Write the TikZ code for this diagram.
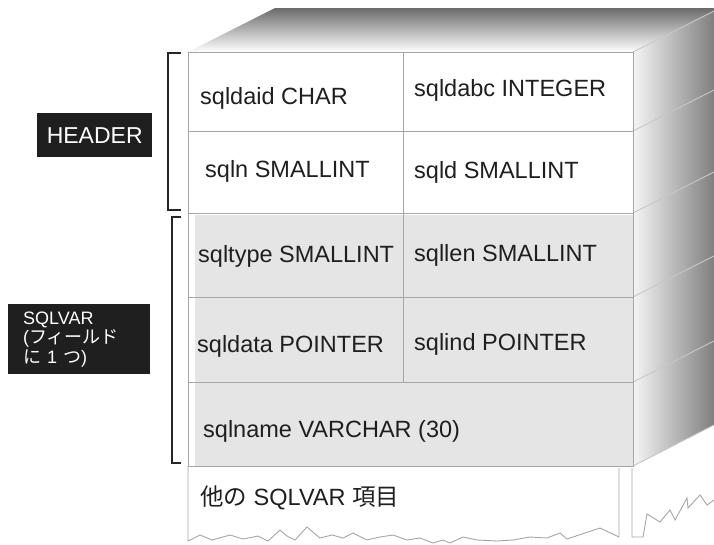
\documentclass[tikz,border=0pt]{standalone}
\usepackage{fontspec}
\setmainfont{Liberation Sans}
\newfontfamily\jp{Noto Sans CJK JP}
\begin{document}
\begin{tikzpicture}[x=1pt,y=-1pt,
  grid/.style={draw=black!35, line width=0.9pt},
  edge3d/.style={draw=black!22, line width=0.9pt},
  field/.style={anchor=west, inner sep=0pt, font=\fontsize{23.5}{27}\selectfont, text=black!88},
  brk/.style={line width=2.6pt, draw=black!85},
  tag/.style={fill=black!88, text=white, inner sep=0pt}]
\useasboundingbox (0,0) rectangle (714,544);
\fill[white] (0,0) rectangle (714,544);
% top face
\shade[top color=black!58, bottom color=white] (188,52) -- (275,8) -- (714,8) -- (714,11) -- (633,52) -- cycle;
% side face
\shade[left color=black!4, right color=black!50] (633,52) -- (714,11) -- (714,425) -- (633,466) -- cycle;
\foreach \yy in {52,131,213,297,382,466} \draw[edge3d] (633,\yy) -- (714,\yy-41);
% front face
\fill[white] (188,52) rectangle (633,466);
\fill[black!10] (195,215) rectangle (633,466);
\draw[grid] (188,52) rectangle (633,466);
\foreach \yy in {131,213,297,382} \draw[grid] (188,\yy) -- (633,\yy);
\draw[grid] (403,52) -- (403,382);
% lower (continuation) part
\draw[grid] (188,466) -- (188,541) -- (200,535) -- (212,540) -- (230,535) -- (243,539) -- (258,536) -- (268,541)
  -- (280,530) -- (287,536) -- (295,540) -- (307,527) -- (320,538) -- (332,535) -- (343,538) -- (353,533)
  -- (367,540) -- (380,537) -- (393,535) -- (407,540) -- (420,538) -- (433,543) -- (443,540) -- (450,543)
  -- (463,537) -- (477,540) -- (497,541) -- (513,540) -- (530,537) -- (547,538) -- (560,533) -- (567,539)
  -- (585,533) -- (600,528) -- (619,537) -- (619,468);
\draw[grid] (632,468) -- (632,537) -- (643,537) -- (647,514) -- (660,522) -- (670,510) -- (675,520)
  -- (687,498) -- (688,508) -- (700,495) -- (707,505) -- (714,500);
% fields
\node[field] (daid) at (200,98) {sqldaid CHAR};
\node[field] (dabc) at (414,90) {sqldabc INTEGER};
\node[field] (sqln) at (205,171) {sqln SMALLINT};
\node[field] (sqld) at (414,172) {sqld SMALLINT};
\node[field] (type) at (198,256) {sqltype SMALLINT};
\node[field] (len) at (414,255) {sqllen SMALLINT};
\node[field] (data) at (197,346) {sqldata POINTER};
\node[field] (ind) at (414,344) {sqlind POINTER};
\node[field] (name) at (203,431) {sqlname VARCHAR (30)};
\node[field] (other) at (200,498) {{\jp 他の} SQLVAR {\jp 項目}};
% brackets
\draw[brk] (181,53) -- (168,53) -- (168,210) -- (181,210);
\draw[brk] (181,217) -- (172,217) -- (172,463) -- (181,463);
% labels
\node[tag, anchor=north west, minimum width=115pt, minimum height=44pt,
  font=\fontsize{23}{26}\selectfont] (header) at (37,113) {HEADER};
\node[tag, anchor=north west, text width=112pt, inner xsep=15pt, minimum height=70pt, align=left,
  font=\fontsize{18}{19.5}\selectfont] (sqlvar) at (8,304)
  {SQLVAR\\({\jp フィールド}\\{\jp に} 1 {\jp つ})};
\end{tikzpicture}
\end{document}
